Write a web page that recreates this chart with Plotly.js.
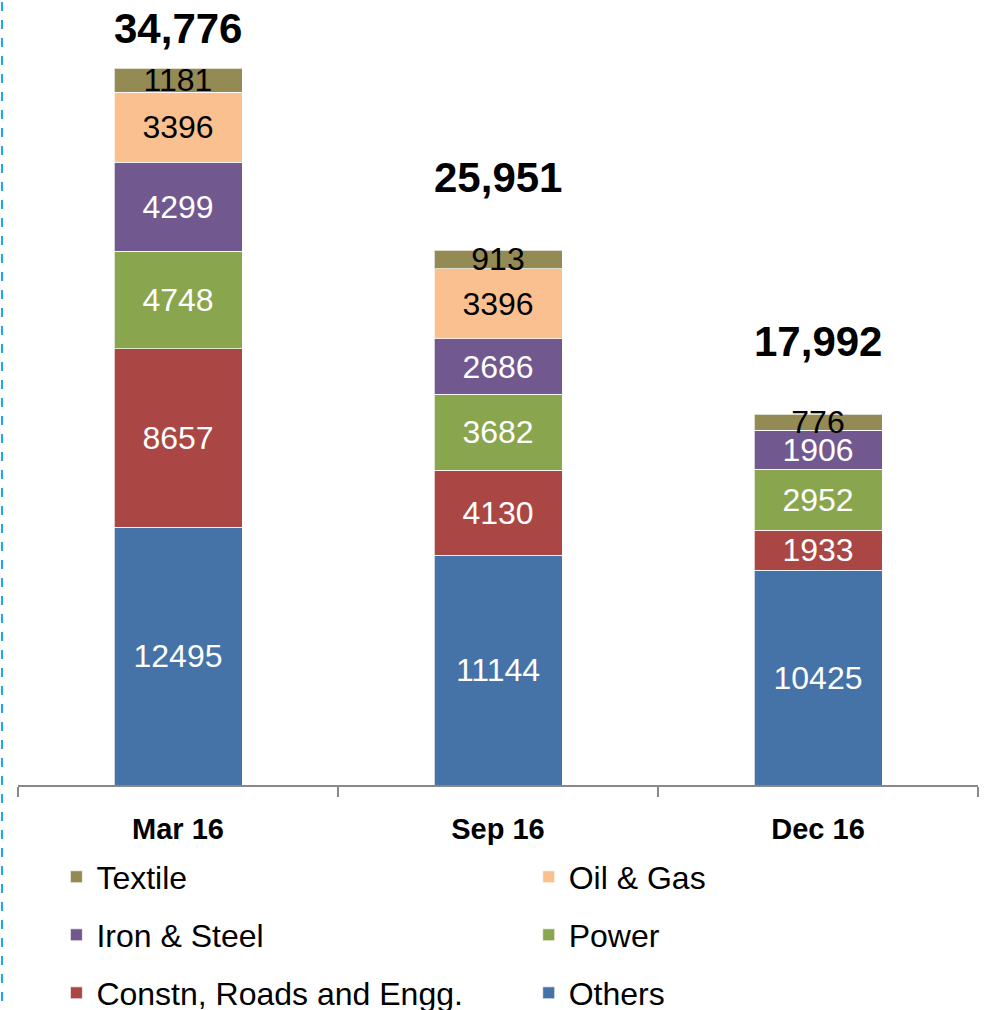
<!DOCTYPE html>
<html>
<head>
<meta charset="utf-8">
<script src="https://cdn.plot.ly/plotly-3.0.1.min.js"></script>
<style>
html, body { margin: 0; padding: 0; background: #fff; }
#chart { width: 990px; height: 1010px; }
</style>
</head>
<body>
<div id="chart"></div>
<script>
const categories = ['Mar 16', 'Sep 16', 'Dec 16'];
const others   = [12495, 11144, 10425];
const constn   = [8657, 4130, 1933];
const power    = [4748, 3682, 2952];
const ironSteel = [4299, 2686, 1906];
const oilGas   = [3396, 3396, 0];
const textile  = [1181, 913, 776];

const FONT = 'Liberation Sans, Arial, sans-serif';

// legend slot: column (0 left, 1 right), row (0..2)
const seriesDefs = [
  {name: 'Others', values: others, color: '#4572A7', txt: '#FFFFFF', col: 1, row: 2},
  {name: 'Constn, Roads and Engg.', values: constn, color: '#AA4643', txt: '#FFFFFF', col: 0, row: 2},
  {name: 'Power', values: power, color: '#89A54E', txt: '#FFFFFF', col: 1, row: 1},
  {name: 'Iron & Steel', values: ironSteel, color: '#71588F', txt: '#FFFFFF', col: 0, row: 1},
  {name: 'Oil & Gas', values: oilGas, color: '#FAC08F', txt: '#000000', col: 1, row: 0},
  {name: 'Textile', values: textile, color: '#948A54', txt: '#000000', col: 0, row: 0}
];

const legendIds = seriesDefs.map((s, i) => i === 0 ? 'legend' : 'legend' + (i + 1));

const traces = seriesDefs.map((s, i) => ({
  type: 'bar',
  name: s.name,
  x: categories,
  y: s.values,
  text: s.values.map(v => v ? String(v) : ''),
  textposition: 'inside',
  insidetextanchor: 'middle',
  constraintext: 'none',
  textangle: 0,
  textfont: {family: FONT, size: 32, color: s.txt},
  marker: {color: s.color, line: {color: 'rgba(255,255,255,0.7)', width: 1}},
  legend: legendIds[i],
  hoverinfo: 'x+y+name'
}));

const totals = categories.map((c, i) => seriesDefs.reduce((a, s) => a + s.values[i], 0));
const totalLift = [40, 73, 73];

const annotations = categories.map((c, i) => ({
  x: c, y: totals[i], xref: 'x', yref: 'y',
  text: totals[i].toLocaleString('en-US'),
  showarrow: false, yanchor: 'middle', yshift: totalLift[i],
  font: {family: FONT, size: 42, color: '#000', weight: 'bold'}
}));

const colX = [0.04, 0.532];
const rowY = [-0.1179, -0.1923, -0.2667];

const layout = {
  width: 990, height: 1010,
  margin: {l: 18, r: 12, t: 5, b: 225, autoexpand: false},
  paper_bgcolor: '#FFFFFF', plot_bgcolor: '#FFFFFF',
  barmode: 'stack', bargap: 0.6,
  showlegend: true,
  xaxis: {
    type: 'category', range: [-0.5, 2.5],
    showline: true, linecolor: '#888888', linewidth: 1.5,
    ticks: 'outside', tickson: 'boundaries', ticklen: 10, tickwidth: 1.5, tickcolor: '#888888',
    tickfont: {family: FONT, size: 29, color: '#000', weight: 'bold'},
    ticklabelstandoff: 18,
    showgrid: false, zeroline: false, fixedrange: true
  },
  yaxis: {
    range: [0, 37836], visible: false, showgrid: false, zeroline: false, fixedrange: true
  },
  annotations: annotations,
  shapes: [{
    type: 'line', xref: 'paper', yref: 'paper',
    x0: -0.0167, x1: -0.0167, y0: -0.3, y1: 1.02,
    line: {color: '#1AA7EC', width: 2, dash: 'dash'}
  }]
};

seriesDefs.forEach((s, i) => {
  layout[legendIds[i]] = {
    orientation: 'v', xanchor: 'left', yanchor: 'middle',
    x: colX[s.col], y: rowY[s.row],
    font: {family: FONT, size: 32, color: '#000'}, bgcolor: 'rgba(0,0,0,0)'
  };
});

Plotly.newPlot('chart', traces, layout, {displayModeBar: false, staticPlot: true});
</script>
</body>
</html>
